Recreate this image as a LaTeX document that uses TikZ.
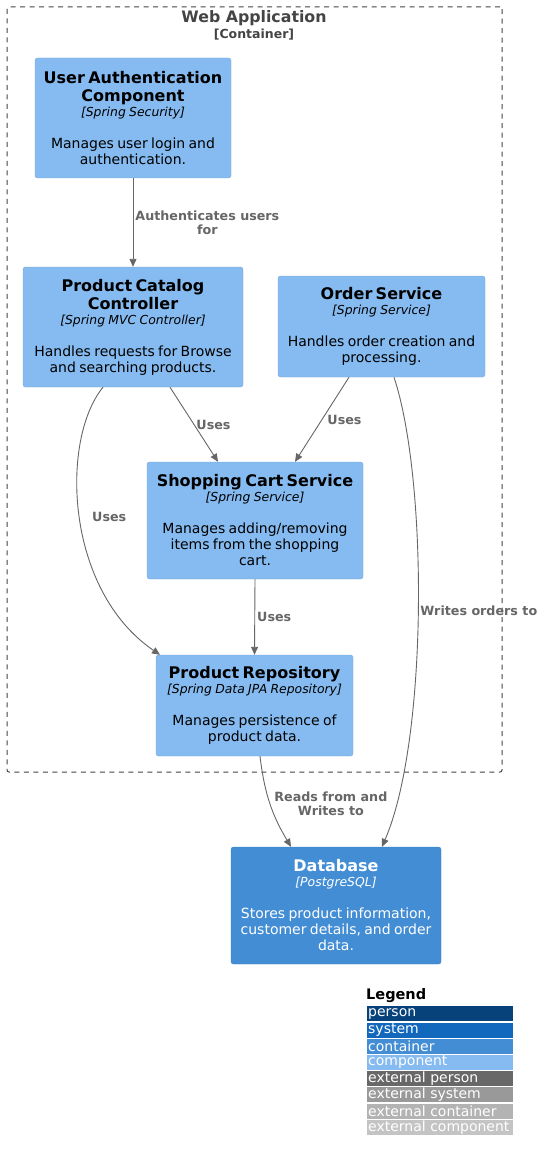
\documentclass[tikz,border=0pt]{standalone}
\usepackage{fontspec}
\setmainfont{DejaVu Sans}
\usepackage{xcolor}
\usepackage{tikz}
\usetikzlibrary{positioning,arrows.meta}

\definecolor{compfill}{HTML}{85BBF0}
\definecolor{compline}{HTML}{78A8D8}
\definecolor{contfill}{HTML}{438DD5}
\definecolor{contline}{HTML}{3C7FC0}
\definecolor{persfill}{HTML}{08427B}
\definecolor{sysfill}{HTML}{1168BD}
\definecolor{extpers}{HTML}{686868}
\definecolor{extsys}{HTML}{999999}
\definecolor{extcont}{HTML}{B3B3B3}
\definecolor{extcomp}{HTML}{C4C4C4}
\definecolor{relgray}{HTML}{666666}
\definecolor{titlegray}{HTML}{444444}

\newcommand{\boxtext}[3]{%
  {\fontsize{16}{18}\selectfont\bfseries #1\par}%
  {\fontsize{12.4}{15}\selectfont\itshape [#2]\par}%
  \vspace{16pt}%
  {\fontsize{14}{16}\selectfont #3\par}}

\begin{document}
\begin{tikzpicture}[x=1pt, y=-1pt,
		compnode/.style={rectangle, rounded corners=2.5pt, draw=compline, fill=compfill, align=center, inner sep=3pt, text=black},
		dbnode/.style={compnode, draw=contline, fill=contfill, text=white},
		rel/.style={-{Triangle[length=8pt,width=7pt]}, draw=relgray, line width=0.9pt},
		lbl/.style={font=\fontsize{12.7}{14}\selectfont\bfseries, text=relgray, align=center, inner sep=2pt},
		legitem/.style={rectangle, anchor=north west, minimum width=146pt, minimum height=15pt, inner xsep=1pt, inner ysep=0pt, text=white, font=\fontsize{14}{15}\selectfont},
	]
		\useasboundingbox (0,0) rectangle (543,1161);

		% container
		\node[draw=titlegray, line width=1pt, dash pattern=on 5pt off 4.5pt, rounded corners=2pt, minimum width=495pt, minimum height=765pt] (webapp) at (254.5,389.5) {};
		\node[font=\fontsize{15.8}{18}\selectfont\bfseries, text=titlegray, inner sep=0pt] (apptitle) at (254,18) {Web Application};
		\node[font=\fontsize{12.5}{13}\selectfont\bfseries, text=titlegray, inner sep=0pt, below=3pt of apptitle] (apptype) {[Container]};

		% nodes
		\node[compnode, text width=190pt, minimum height=120pt] (auth) at (133,118)
			{\boxtext{User Authentication\\Component}{Spring Security}{Manages user login and\\authentication.}};
		\node[compnode, text width=214pt, minimum height=120pt] (catalog) at (133,327)
			{\boxtext{Product Catalog\\Controller}{Spring MVC Controller}{Handles requests for Browse\\and searching products.}};
		\node[compnode, text width=201pt, minimum height=101pt] (order) at (381.5,326.5)
			{\boxtext{Order Service}{Spring Service}{Handles order creation and\\processing.}};
		\node[compnode, text width=210pt, minimum height=117pt] (cart) at (255,520.5)
			{\boxtext{Shopping Cart Service}{Spring Service}{Manages adding/removing\\items from the shopping\\cart.}};
		\node[compnode, text width=191pt, minimum height=101pt] (repo) at (254.5,705.5)
			{\boxtext{Product Repository}{Spring Data JPA Repository}{Manages persistence of\\product data.}};
		\node[dbnode, text width=204pt, minimum height=117pt] (db) at (336,905.5)
			{\boxtext{Database}{PostgreSQL}{Stores product information,\\customer details, and order\\data.}};

		% lines
		\draw[rel] (auth.south) -- node[lbl, right, pos=0.5] {Authenticates users\\for} (catalog.north);
		\draw[rel] ([xshift=37pt]catalog.south) -- node[lbl, right, pos=0.5] {Uses} ([xshift=-37pt]cart.north);
		\draw[rel] ([xshift=-32.5pt]order.south) -- node[lbl, right, pos=0.5, xshift=3pt] {Uses} ([xshift=40pt]cart.north);
		\draw[rel] ([xshift=-30pt]catalog.south) .. controls (60,440) and (65,590) .. node[lbl, right, pos=0.5, xshift=10pt] {Uses} ([xshift=-94.5pt]repo.north);
		\draw[rel] (cart.south) -- node[lbl, right, pos=0.5] {Uses} (repo.north);
		\draw[rel] ([xshift=12.5pt]order.south) .. controls (428,480) and (428,740) .. node[lbl, right, pos=0.5] {Writes orders to} ([xshift=46pt]db.north);
		\draw[rel] ([xshift=5.5pt]repo.south) to[bend right=12] node[lbl, right, pos=0.5, xshift=2pt] {Reads from and\\Writes to} ([xshift=-45pt]db.north);

		% legend
		\node[font=\fontsize{14.5}{16}\selectfont\bfseries, anchor=south west, inner sep=0pt] (legtitle) at (366,1003) {Legend};
		\foreach \colr/\txt [count=\i] in {persfill/person, sysfill/system, contfill/container, compfill/component, extpers/external person, extsys/external system, extcont/external container, extcomp/external component}
			\node[legitem, fill=\colr] (leg\i) at ({367},{990+16.2*\i}) {\makebox[144pt][l]{\txt}};

	\end{tikzpicture}
\end{document}
